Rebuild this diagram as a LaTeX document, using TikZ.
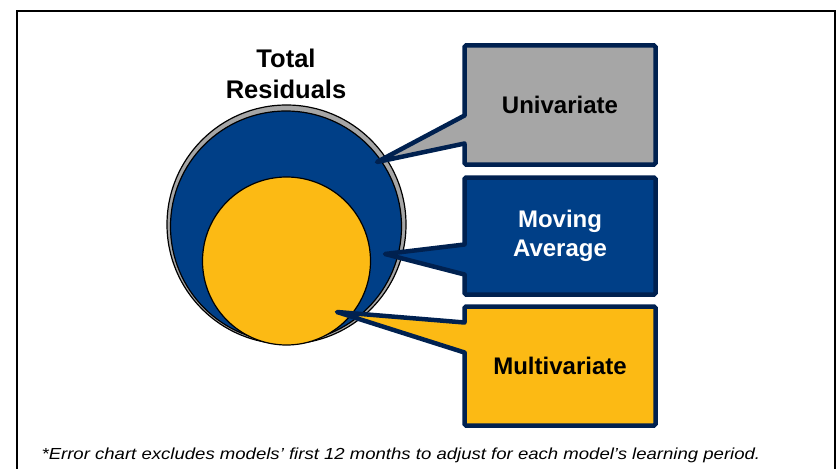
\documentclass[tikz,border=0pt]{standalone}
\usepackage{fontspec}
\setmainfont{Liberation Sans}
\newfontfamily\notefont[FakeStretch=1.16]{Liberation Sans}
\usetikzlibrary{calc}

\definecolor{resblue}{RGB}{0,63,135}
\definecolor{resgold}{RGB}{252,186,20}
\definecolor{resgray}{RGB}{166,166,166}
\definecolor{resnavy}{RGB}{0,33,80}

\tikzset{
  ring/.style={circle, draw=black, line width=1.2pt, inner sep=0pt, outer sep=0pt},
  labelbox/.style={rectangle, draw=resnavy, line width=4.5pt, rounded corners=1.5pt,
    minimum width=191pt, minimum height=#1, inner sep=0pt, outer sep=0pt,
    font=\fontsize{24}{29}\selectfont\bfseries, align=center, text=black},
  pointer/.style={draw=resnavy, line width=4.5pt, line join=round, line cap=round},
  headline/.style={font=\fontsize{25.5}{31}\selectfont\bfseries, align=center},
  note/.style={font=\notefont\fontsize{16}{19}\selectfont\itshape, anchor=base west}
}

\begin{document}
\begin{tikzpicture}[x=1pt,y=-1pt]
\useasboundingbox (0,0) rectangle (837,468);

% outer frame, open at the bottom
\draw[line width=2pt] (17,490) -- (17,11) -- (835,11) -- (835,490);

% nested residual circles
\node[ring, fill=resgray, minimum size=239pt] (total) at (286.5,224.5) {};
\node[ring, fill=resblue, minimum size=231pt] (moving) at (286,226.5) {};
\node[ring, fill=resgold, minimum size=168pt] (multi) at (286.5,261) {};

\node[headline] (title) at (286,74) {Total\\Residuals};

% label boxes
\node[labelbox=119pt, fill=resgray] (uni) at (560,105) {Univariate};
\node[labelbox=117pt, fill=resblue, text=white] (ma) at (560,236) {Moving\\Average};
\node[labelbox=119pt, fill=resgold] (mv) at (560,366) {Multivariate};

% pointer tips on the circles
\coordinate (unitip) at (377,162);
\coordinate (matip) at (385,254);
\coordinate (mvtip) at (337,312);

% callout pointers joining each box to its circle
\foreach \b/\t/\ya/\yb/\c in {uni/unitip/70/98/resgray, ma/matip/67/97/resblue, mv/mvtip/16/46/resgold}{
  \fill[\c] ($(\b.north west)+(3,\ya)$) -- (\t) -- ($(\b.north west)+(3,\yb)$) -- cycle;
  \draw[pointer] ($(\b.north west)+(0,\ya)$) -- (\t) -- ($(\b.north west)+(0,\yb)$);
}

\node[note] (foot) at (38,459) {*Error chart excludes models’ first 12 months to adjust for each model’s learning period.};
\end{tikzpicture}
\end{document}
